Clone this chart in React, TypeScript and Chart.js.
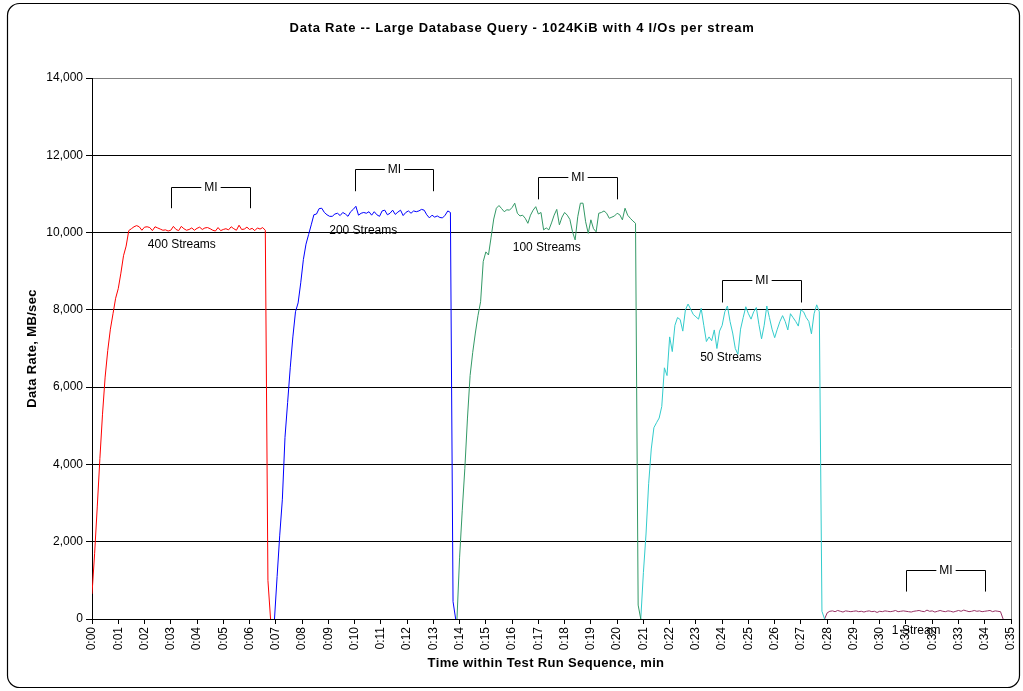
import React, { useEffect, useRef } from "react";
import { Chart, registerables } from "chart.js";

Chart.register(...registerables);

const chartTitle = "Data Rate -- Large Database Query - 1024KiB with 4 I/Os per stream";
const xAxisTitle = "Time within Test Run Sequence, min";
const yAxisTitle = "Data Rate, MB/sec";

// minutes between successive samples of each run
const sampleStep = 0.001;

const seriesNames = ["400 Streams", "200 Streams", "100 Streams", "50 Streams", "1 Stream"];
const seriesColors = ["#FF0000", "#0000FF", "#339966", "#33CCCC", "#993366"];
const seriesStarts = [0, 0.0695, 0.139, 0.209, 0.279];

const rate400 = [
  650, 1700, 2900, 4150, 5300, 6260, 6950, 7500, 7900, 8300, 8550, 8950, 9400, 9650, 10050, 10100, 10150,
  10180, 10150, 10060, 10140, 10150, 10130, 10050, 10150, 10120, 10090,
  10060, 10070, 10040, 10060, 10160, 10080, 10050, 10160, 10100, 10060,
  10080, 10120, 10060, 10110, 10140, 10080, 10120, 10130, 10100, 10060,
  10040, 10130, 10050, 10080, 10100, 10070, 10150, 10100, 10060, 10190,
  10080, 10090, 10140, 10080, 10110, 10050, 10120, 10090, 10130, 10060,
  1000, 0,
];

const rate200 = [
  0, 1100, 2170, 3100, 4700, 5600, 6500, 7300, 7950, 8180, 8700, 9300, 9700, 9950, 10200, 10460, 10480, 10620, 10630, 10520,
  10460, 10420, 10420, 10480, 10500, 10440, 10520, 10480, 10420, 10540,
  10600, 10680, 10450, 10500, 10520, 10500, 10540, 10450, 10540, 10460,
  10420, 10560, 10580, 10460, 10500, 10580, 10470, 10530, 10580, 10440,
  10520, 10560, 10500, 10560, 10540, 10560, 10600, 10580, 10460, 10380,
  10450, 10400, 10430, 10390, 10380, 10450, 10560, 10520,
  450, 0,
];

const rate100 = [
  0, 1600, 2800, 3900, 5200, 6300, 6900, 7400, 7850, 8210, 9250, 9500, 9420, 9880, 10350, 10630, 10700,
  10620, 10540, 10590, 10580, 10650, 10760, 10500, 10430, 10450, 10370,
  10240, 10450, 10580, 10670, 10480, 10520, 10070, 10120, 10070, 10250,
  10450, 10600, 10200, 10400, 10520, 10450, 10340, 10020, 9810, 10410,
  10760, 10760, 10280, 9980, 10330, 10100, 10020, 10500, 10520, 10560,
  10500, 10370, 10400, 10430, 10500, 10460, 10330, 10630, 10450, 10370,
  10300, 10240,
  360, 0,
];

const rate50 = [
  0, 1200, 2200, 3500, 4400, 4950, 5080, 5200, 5500, 6500,
  6300, 7300, 6920, 7600, 7800, 7750, 7450, 8000, 8150, 8020,
  7880, 7820, 7760, 8040, 7600, 7180, 7300, 7200, 7480, 7000,
  7450, 7600, 7950, 8100, 7700, 7400, 7000, 6850, 7500, 7800,
  8080, 7900, 7760, 7950, 8060, 7620, 7250, 7600, 8100, 7800,
  7500, 7280, 7500, 7700, 7850, 7700, 7480, 7900, 7800, 7700,
  7580, 8000, 7950, 7800, 7700, 7380, 7900, 8130, 7950, 200,
  0,
];

const rate1 = [
  0, 160,
  200, 210, 190, 220, 200, 180, 210, 200, 190, 200,
  210, 190, 200, 180, 200, 210, 190, 200, 170, 200,
  190, 210, 200, 190, 200, 220, 190, 200, 210, 200,
  190, 180, 200, 210, 220, 200, 190, 230, 200, 210,
  180, 200, 220, 200, 190, 210, 200, 180, 200, 220,
  200, 230, 210, 190, 200, 220, 200, 210, 190, 200,
  210, 220, 190, 210, 200, 190,
  0,
];

const seriesValues = [rate400, rate200, rate100, rate50, rate1];

const xTickValues = [
  0, 0.01, 0.02, 0.03, 0.04, 0.05, 0.06, 0.07, 0.08, 0.09,
  0.1, 0.11, 0.12, 0.13, 0.14, 0.15, 0.16, 0.17, 0.18, 0.19,
  0.2, 0.21, 0.22, 0.23, 0.24, 0.25, 0.26, 0.27, 0.28, 0.29,
  0.3, 0.31, 0.32, 0.33, 0.34, 0.35,
];
const xTickLabels = [
  "0:00", "0:01", "0:02", "0:03", "0:04", "0:05", "0:06", "0:07", "0:08", "0:09",
  "0:10", "0:11", "0:12", "0:13", "0:14", "0:15", "0:16", "0:17", "0:18", "0:19",
  "0:20", "0:21", "0:22", "0:23", "0:24", "0:25", "0:26", "0:27", "0:28", "0:29",
  "0:30", "0:31", "0:32", "0:33", "0:34", "0:35",
];

// stream labels placed in the plot
const labelTimes = [0.0342, 0.1033, 0.1732, 0.2433, 0.3139];
const labelValues = [9680, 10040, 9620, 6760, -310];

// "MI" measurement-interval brackets
const miText = "MI";
const miStart = [0.03, 0.1, 0.17, 0.24, 0.31];
const miEnd = [0.06, 0.13, 0.2, 0.27, 0.34];
const miTop = [11190, 11650, 11450, 8760, 1270];
const miBottom = [10630, 11070, 10860, 8190, 710];

const FONT = '"Liberation Sans", Arial, Helvetica, sans-serif';

const decorPlugin = {
  id: "decor",
  beforeDraw(chart: any) {
    const { ctx } = chart;
    ctx.save();
    ctx.fillStyle = "#ffffff";
    ctx.fillRect(0, 0, chart.width, chart.height);
    ctx.strokeStyle = "#000000";
    ctx.lineWidth = 1.2;
    ctx.beginPath();
    (ctx as any).roundRect(7.5, 3.5, chart.width - 11, chart.height - 7, 12);
    ctx.stroke();
    ctx.restore();
  },
  afterDraw(chart: any) {
    const { ctx, chartArea } = chart;
    const xs = chart.scales.x;
    const ys = chart.scales.y;
    ctx.save();
    // right side of plot frame
    ctx.strokeStyle = "#808080";
    ctx.lineWidth = 1;
    const rx = Math.round(chartArea.right) + 0.5;
    ctx.beginPath();
    ctx.moveTo(rx, chartArea.top);
    ctx.lineTo(rx, chartArea.bottom);
    ctx.stroke();

    // titles
    ctx.fillStyle = "#000000";
    ctx.textAlign = "center";
    ctx.textBaseline = "middle";
    ctx.font = `bold 13px ${FONT}`;
    (ctx as any).letterSpacing = "0.75px";
    ctx.fillText(chartTitle, 522, 28);
    (ctx as any).letterSpacing = "0.35px";
    ctx.fillText(xAxisTitle, 546, 663);
    ctx.save();
    ctx.translate(32, (chartArea.top + chartArea.bottom) / 2);
    ctx.rotate(-Math.PI / 2);
    ctx.fillText(yAxisTitle, 0, 0);
    ctx.restore();
    (ctx as any).letterSpacing = "0px";

    ctx.font = `12px ${FONT}`;
    // MI brackets
    ctx.strokeStyle = "#000000";
    ctx.lineWidth = 1;
    for (let i = 0; i < miStart.length; i++) {
      const x1 = Math.round(xs.getPixelForValue(miStart[i])) + 0.5;
      const x2 = Math.round(xs.getPixelForValue(miEnd[i])) + 0.5;
      const yt = Math.round(ys.getPixelForValue(miTop[i])) + 0.5;
      const yb = ys.getPixelForValue(miBottom[i]);
      const xm = (x1 + x2) / 2;
      const gap = ctx.measureText(miText).width / 2 + 3;
      ctx.beginPath();
      ctx.moveTo(x1, yb);
      ctx.lineTo(x1, yt);
      ctx.lineTo(xm - gap, yt);
      ctx.moveTo(xm + gap, yt);
      ctx.lineTo(x2, yt);
      ctx.lineTo(x2, yb);
      ctx.stroke();
      ctx.fillText(miText, xm, yt);
    }
    // stream labels
    for (let i = 0; i < seriesNames.length; i++) {
      ctx.fillText(
        seriesNames[i],
        xs.getPixelForValue(labelTimes[i]),
        ys.getPixelForValue(labelValues[i])
      );
    }
    ctx.restore();
  },
};

export default function App() {
  const canvasRef = useRef<HTMLCanvasElement | null>(null);

  useEffect(() => {
    if (!canvasRef.current) return;
    Chart.defaults.font.family = FONT;
    Chart.defaults.font.size = 12;
    Chart.defaults.color = "#000000";

    const datasets = seriesValues.map((vals, s) => ({
      label: seriesNames[s],
      data: vals.map((v, i) => ({ x: seriesStarts[s] + i * sampleStep, y: v })),
      borderColor: seriesColors[s],
      backgroundColor: seriesColors[s],
      borderWidth: 1,
      pointRadius: 0,
      tension: 0,
      fill: false,
    }));

    const chart = new Chart(canvasRef.current, {
      type: "line",
      data: { datasets },
      options: {
        animation: false,
        responsive: false,
        maintainAspectRatio: false,
        parsing: false,
        layout: { padding: { top: 78, right: 12, bottom: 0, left: 0 } },
        plugins: {
          legend: { display: false },
          tooltip: { enabled: false },
          title: { display: false },
        },
        scales: {
          x: {
            type: "linear",
            min: 0,
            max: 0.35,
            afterBuildTicks: (scale: any) => {
              scale.ticks = xTickValues.map((v) => ({ value: v }));
            },
            afterFit: (scale: any) => {
              scale.height = 72;
              scale.paddingLeft = 0;
              scale.paddingRight = 0;
            },
            ticks: {
              autoSkip: false,
              minRotation: 90,
              maxRotation: 90,
              padding: 3,
              font: { size: 12, family: FONT },
              color: "#000000",
              callback: (_v: any, index: number) => xTickLabels[index],
            },
            grid: {
              drawOnChartArea: false,
              drawTicks: true,
              tickLength: 5,
              tickColor: "#000000",
            },
            border: { display: true, color: "#000000", width: 1 },
            title: { display: false },
          },
          y: {
            type: "linear",
            min: 0,
            max: 14000,
            afterFit: (scale: any) => {
              scale.width = 92;
              scale.paddingTop = 0;
              scale.paddingBottom = 0;
            },
            ticks: {
              stepSize: 2000,
              padding: 3,
              font: { size: 12, family: FONT },
              color: "#000000",
              callback: (v: any) => Number(v).toLocaleString("en-US"),
            },
            grid: {
              color: (c: any) => (c.tick && c.tick.value === 14000 ? "#808080" : "#000000"),
              lineWidth: 1,
              drawTicks: true,
              tickLength: 6,
              tickColor: "#000000",
            },
            border: { display: true, color: "#000000", width: 1 },
            title: { display: false },
          },
        },
      },
      plugins: [decorPlugin],
    });

    return () => chart.destroy();
  }, []);

  return (
    <div style={{ position: "fixed", left: 0, top: 0, width: 1023, height: 691, background: "#fff" }}>
      <canvas ref={canvasRef} width={1023} height={691} style={{ display: "block" }} />
    </div>
  );
}
